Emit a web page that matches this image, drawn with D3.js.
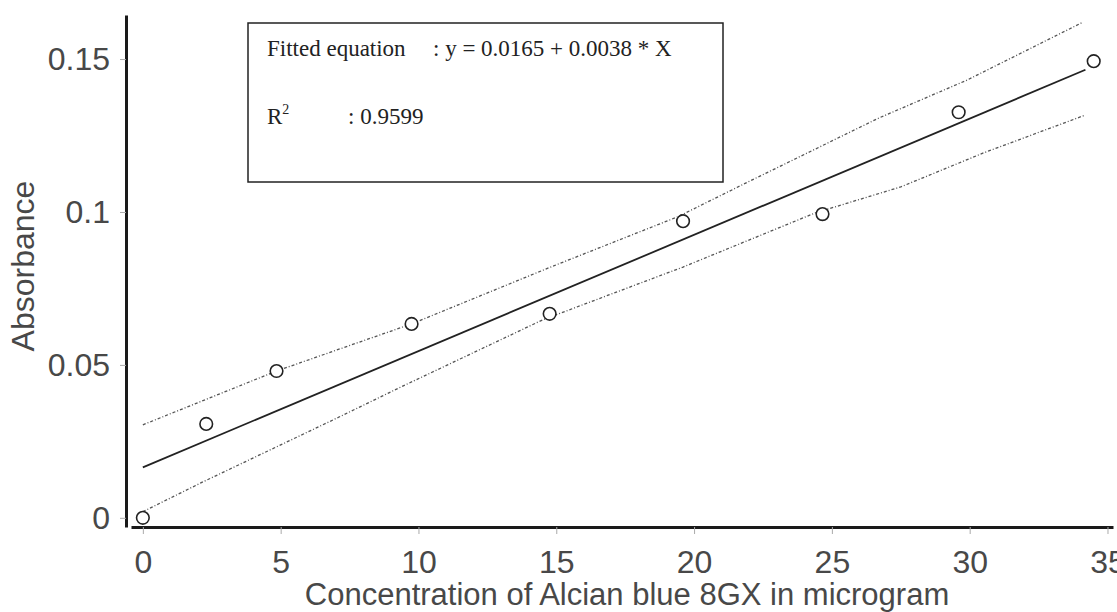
<!DOCTYPE html>
<html>
<head>
<meta charset="utf-8">
<script src="https://cdn.jsdelivr.net/npm/d3@7"></script>
<style>
  body { margin: 0; background: #fff; }
  svg { display: block; }
</style>
</head>
<body>
<svg id="vis"></svg>
<script>
// values
const concX = [0, 2.3, 4.85, 9.75, 14.76, 19.6, 24.66, 29.6, 34.5];
const absY = [0, 0.0307, 0.048, 0.0634, 0.0667, 0.097, 0.0993, 0.1326, 0.1493];

const fitX = [0, 34.2];
const fitY = [0.0165, 0.1465];

const upperX = [0, 4.85, 9.75, 14.8, 19.4, 22, 26.7, 29.9, 34.1];
const upperY = [0.0304, 0.048, 0.0634, 0.082, 0.0984, 0.110, 0.1307, 0.1431, 0.162];

const lowerX = [0, 2.1, 6.9, 9.3, 14.5, 19.6, 24.4, 27.5, 30.5, 34.2];
const lowerY = [0.002, 0.0114, 0.032, 0.0425, 0.0647, 0.082, 0.0997, 0.1082, 0.1193, 0.1317];

const xTicks = [0, 5, 10, 15, 20, 25, 30, 35];
const yTicks = [0, 0.05, 0.1, 0.15];
const yTickLabels = ["0", "0.05", "0.1", "0.15"];

const xTitle = "Concentration of Alcian blue 8GX in microgram";
const yTitle = "Absorbance";
const eqLabel = "Fitted equation";
const eqText = ": y = 0.0165 + 0.0038 * X";
const r2Text = ": 0.9599";

function drawChart() {
  const width = 1117;
  const height = 612;

  const svg = d3.select("#vis")
    .attr("width", width)
    .attr("height", height)
    .attr("viewBox", [0, 0, width, height]);

  const x = d3.scaleLinear().domain([-0.43, 35.2]).range([131, 1113]);
  const y = d3.scaleLinear().domain([-0.003, 0.1644]).range([527, 15]);

  const sans = "'Liberation Sans', Arial, Helvetica, sans-serif";
  const serif = "'Liberation Serif', 'Times New Roman', serif";

  // x axis
  const xAxis = svg.append("g")
    .attr("transform", `translate(0, 527)`)
    .call(d3.axisBottom(x).tickValues(xTicks).tickSize(7).tickSizeOuter(0).tickPadding(16));
  xAxis.select(".domain").attr("stroke", "#1a1a1a").attr("stroke-width", 3);
  xAxis.selectAll(".tick line").attr("stroke", "#aaa").attr("stroke-width", 1);
  xAxis.selectAll(".tick text")
    .style("font-family", sans)
    .style("font-size", "32px")
    .attr("fill", "#484848");

  // y axis
  const yAxis = svg.append("g")
    .attr("transform", `translate(126, 0)`)
    .call(d3.axisLeft(y).tickValues(yTicks).tickFormat((d, i) => yTickLabels[i])
      .tickSize(6).tickSizeOuter(0).tickPadding(10));
  yAxis.select(".domain").attr("stroke", "#1a1a1a").attr("stroke-width", 3);
  yAxis.selectAll(".tick line").attr("stroke", "#aaa").attr("stroke-width", 1);
  yAxis.selectAll(".tick text")
    .style("font-family", sans)
    .style("font-size", "32px")
    .attr("fill", "#484848");

  // axis titles
  svg.append("text")
    .attr("x", 627)
    .attr("y", 605)
    .attr("text-anchor", "middle")
    .style("font-family", sans)
    .style("font-size", "31px")
    .attr("fill", "#484848")
    .text(xTitle);

  svg.append("text")
    .attr("transform", "translate(34, 266) rotate(-90)")
    .attr("text-anchor", "middle")
    .style("font-family", sans)
    .style("font-size", "32px")
    .attr("fill", "#484848")
    .text(yTitle);

  const line = d3.line().x(d => x(d[0])).y(d => y(d[1]));

  // confidence bands (dotted)
  const bands = [d3.zip(upperX, upperY), d3.zip(lowerX, lowerY)];
  svg.selectAll(".band")
    .data(bands)
    .join("path")
      .attr("class", "band")
      .attr("d", line)
      .attr("fill", "none")
      .attr("stroke", "#555")
      .attr("stroke-width", 1.3)
      .attr("stroke-dasharray", "3,2,1,2");

  // fitted line
  svg.append("path")
    .datum(d3.zip(fitX, fitY))
    .attr("d", line)
    .attr("fill", "none")
    .attr("stroke", "#222")
    .attr("stroke-width", 1.8);

  // data points
  svg.selectAll(".pt")
    .data(d3.zip(concX, absY))
    .join("circle")
      .attr("class", "pt")
      .attr("cx", d => x(d[0]))
      .attr("cy", d => y(d[1]))
      .attr("r", 6.3)
      .attr("fill", "#fff")
      .attr("stroke", "#222")
      .attr("stroke-width", 1.6);

  // equation box
  const box = svg.append("g");
  box.append("rect")
    .attr("x", 248)
    .attr("y", 23)
    .attr("width", 475)
    .attr("height", 159)
    .attr("fill", "#fff")
    .attr("stroke", "#222")
    .attr("stroke-width", 1.5);

  const boxText = (tx, ty, s) => box.append("text")
    .attr("x", tx)
    .attr("y", ty)
    .style("font-family", serif)
    .style("font-size", "23px")
    .attr("fill", "#222")
    .text(s);

  boxText(267, 56, eqLabel);
  boxText(433, 56, eqText);
  const r2 = boxText(267, 124, "R");
  r2.append("tspan")
    .attr("dy", -10)
    .style("font-size", "14px")
    .text("2");
  boxText(348, 124, r2Text);
}

drawChart();
</script>
</body>
</html>
